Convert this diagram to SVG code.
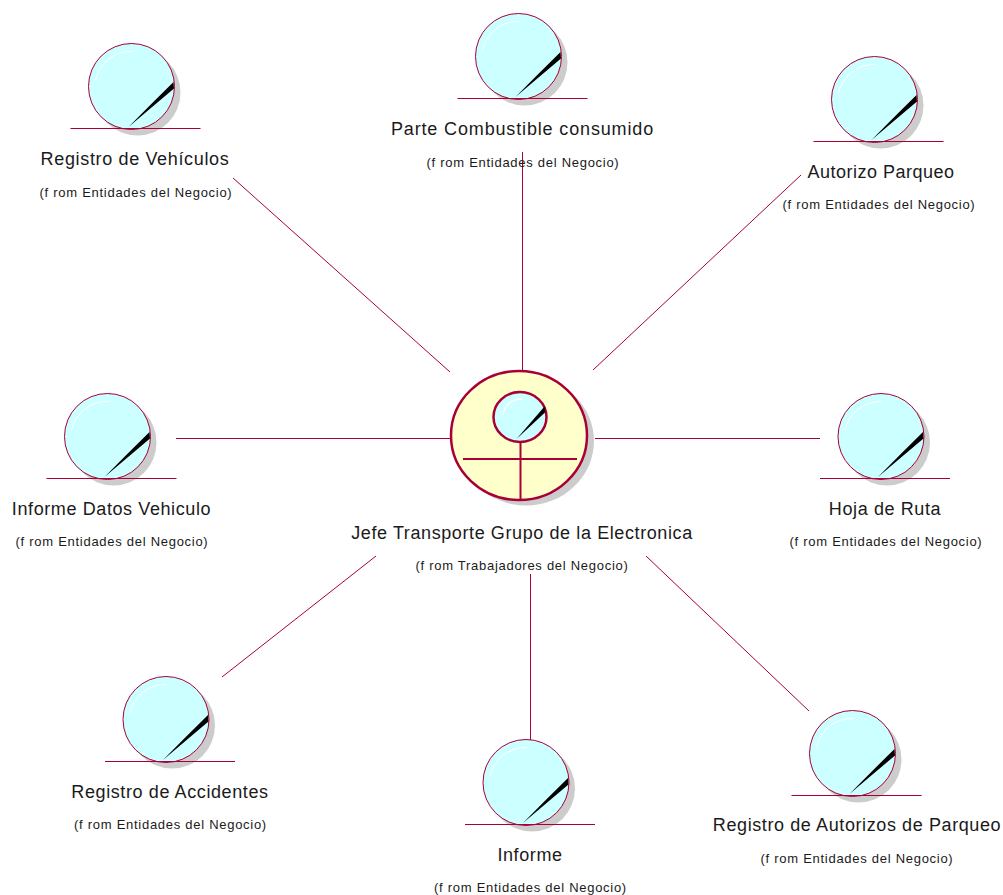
<svg xmlns="http://www.w3.org/2000/svg" width="1003" height="895" viewBox="0 0 1003 895">
<style>
text{font-family:"Liberation Sans",Arial,sans-serif;fill:#1a1a1a;text-anchor:middle}
.n{font-size:18px;letter-spacing:.6px}
.f{font-size:13px;letter-spacing:.72px}
.c{stroke:#a80036;stroke-width:1;fill:none}
</style>
<defs>
<g id="ent">
<circle cx="6" cy="6" r="43" fill="#cccccc"/>
<circle cx="0" cy="0" r="43" fill="#ccffff" stroke="#a80036" stroke-width="1"/>
<path d="M-36 -6A36 36 0 0 1 1 -35" fill="none" stroke="#ffffff" stroke-width="1"/>
<path d="M-3 40.500Q20 17 42 -4.500L42.500 2Q20 21 -3 40.500Z" fill="#000000"/>
<path d="M-61 42H69" stroke="#a80036" stroke-width="1"/>
</g>
</defs>
<rect width="1003" height="895" fill="#ffffff"/>
<g id="connectors" class="c">
<path d="M233 178L450 372"/>
<path d="M522.500 152V371"/>
<path d="M801 175L593 370"/>
<path d="M176 438.500H450"/>
<path d="M595 438.500H820"/>
<path d="M376 556L222 677"/>
<path d="M530.500 574V741"/>
<path d="M646 556L809 711"/>
</g>
<g id="actor">
<ellipse cx="526" cy="441" rx="68" ry="64.500" fill="#cccccc"/>
<ellipse cx="519" cy="435.500" rx="68" ry="64.500" fill="#ffffcc" stroke="#a80036" stroke-width="2.500"/>
<ellipse cx="520" cy="417" rx="26.500" ry="25" fill="#ccffff" stroke="#a80036" stroke-width="2.500"/>
<path d="M503 415A18 18 0 0 1 522 399" fill="none" stroke="#ffffff" stroke-width="1.500"/>
<path d="M516.500 439L544.500 406.500L545.500 412Z" fill="#000000"/>
<path d="M520.500 442V500M463 459H577" stroke="#a80036" stroke-width="2"/>
<text class="n" x="522" y="539">Jefe Transporte Grupo de la Electronica</text>
<text class="f" x="522" y="570">(f rom Trabajadores del Negocio)</text>
</g>
<g id="e1"><use href="#ent" x="131.500" y="86.500"/><text class="n" x="135" y="165" style="letter-spacing:.65px">Registro de Vehículos</text><text class="f" x="136" y="197">(f rom Entidades del Negocio)</text></g>
<g id="e2"><use href="#ent" x="518.500" y="56.500"/><text class="n" x="522.500" y="135" style="letter-spacing:.85px">Parte Combustible consumido</text><text class="f" x="523" y="167">(f rom Entidades del Negocio)</text></g>
<g id="e3"><use href="#ent" x="874.500" y="99.500"/><text class="n" x="881" y="178" style="letter-spacing:.5px">Autorizo Parqueo</text><text class="f" x="879" y="209">(f rom Entidades del Negocio)</text></g>
<g id="e4"><use href="#ent" x="107.500" y="436.500"/><text class="n" x="111.500" y="515">Informe Datos Vehiculo</text><text class="f" x="112" y="546">(f rom Entidades del Negocio)</text></g>
<g id="e5"><use href="#ent" x="881" y="436.500"/><text class="n" x="885" y="515">Hoja de Ruta</text><text class="f" x="886" y="546">(f rom Entidades del Negocio)</text></g>
<g id="e6"><use href="#ent" x="166" y="719.500"/><text class="n" x="170" y="798">Registro de Accidentes</text><text class="f" x="170.500" y="829">(f rom Entidades del Negocio)</text></g>
<g id="e7"><use href="#ent" x="526" y="782.500"/><text class="n" x="530" y="861">Informe</text><text class="f" x="530.500" y="892">(f rom Entidades del Negocio)</text></g>
<g id="e8"><use href="#ent" x="852.500" y="753.500"/><text class="n" x="857" y="831">Registro de Autorizos de Parqueo</text><text class="f" x="857" y="863">(f rom Entidades del Negocio)</text></g>
</svg>
